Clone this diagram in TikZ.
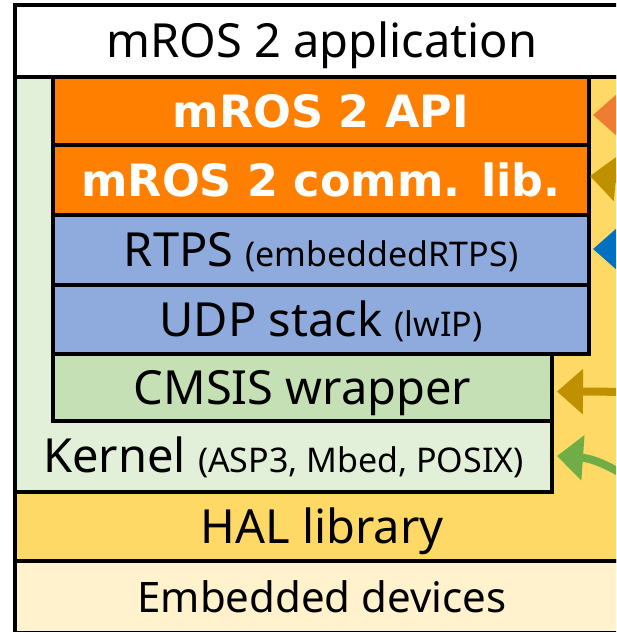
\documentclass[tikz,border=0pt]{standalone}
\usepackage{fontspec}
\setmainfont{Noto Sans}
\newfontfamily\apifont{DejaVu Sans}
\usetikzlibrary{arrows.meta}
\definecolor{apiorange}{HTML}{FF7F00}
\definecolor{rtpsblue}{HTML}{8FAADC}
\definecolor{cmsisgreen}{HTML}{C5E0B4}
\definecolor{kernelgreen}{HTML}{E2F0D9}
\definecolor{halyellow}{HTML}{FFD966}
\definecolor{devcream}{HTML}{FFF2CC}
\definecolor{arrorange}{HTML}{ED7D31}
\definecolor{arrbrown}{HTML}{BF9000}
\definecolor{arrblue}{HTML}{0070C0}
\definecolor{arrgreen}{HTML}{70AD47}
\newcommand{\subtxt}[1]{{\fontsize{34}{41}\selectfont #1}}
\tikzset{
  layer/.style={draw=black,line width=4.5pt,inner sep=0pt,outer sep=0pt,anchor=north west,
    text height=33.5pt,text depth=0pt,font=\fontsize{47}{54}\selectfont},
  boldlayer/.style={layer,text=white,text height=32.5pt,font=\apifont\bfseries\fontsize{44.5}{52}\selectfont},
  tag/.style={inner sep=0pt,text height=33.5pt,text depth=0pt,font=\fontsize{47}{54}\selectfont},
  feed/.style={line width=8pt,-{Triangle[length=26pt,width=44pt]}}
}
\begin{document}
\begin{tikzpicture}[x=1pt,y=-1pt]
    \useasboundingbox (0,0) rectangle (616,632);
    \clip (0,0) rectangle (616,632);

    \node[layer,fill=halyellow,minimum width=614pt,minimum height=484pt] (hal) at (15,77) {};
    \node[layer,fill=kernelgreen,minimum width=537pt,minimum height=415pt] (kernel) at (15,77) {};
    \node[layer,fill=white,minimum width=614pt,minimum height=72pt] (app) at (15,5) {mROS 2 application};

    \node[boldlayer,fill=apiorange,minimum width=536pt,minimum height=68pt] (api) at (53,77) {mROS 2 API};
    \node[boldlayer,fill=apiorange,minimum width=536pt,minimum height=70pt] (comm) at (53,145) {mROS 2 comm. lib.};
    \node[layer,fill=rtpsblue,minimum width=536pt,minimum height=70pt] (rtps) at (53,215) {RTPS \subtxt{(embeddedRTPS)}};
    \node[layer,fill=rtpsblue,minimum width=536pt,minimum height=69pt] (udp) at (53,285) {UDP stack \subtxt{(lwIP)}};
    \node[layer,fill=cmsisgreen,minimum width=499pt,minimum height=67pt] (cmsis) at (53,354) {CMSIS wrapper};
    \node[layer,fill=devcream,minimum width=614pt,minimum height=72pt,text height=30pt,font=\fontsize{42}{49}\selectfont] (dev) at (15,561) {Embedded devices};

    \node[tag] (kernellabel) at (283.5,456) {Kernel \subtxt{(ASP3, Mbed, POSIX)}};
    \node[tag] (hallabel) at (322,527) {HAL library};

    \coordinate (apiin) at (660,115);
    \coordinate (commin) at (690,255);
    \coordinate (rtpsin) at (660,249);
    \coordinate (cmsisin) at (660,392);
    \coordinate (kernelin) at (690,520);

    \draw[feed,arrorange] (apiin) -- ([shift={(4,4)}]api.east);
    \draw[feed,arrbrown] (commin) .. controls (640,200) and (622,179) .. ([shift={(1,-4)}]comm.east);
    \draw[feed,arrblue] (rtpsin) -- ([shift={(4,-1)}]rtps.east);
    \draw[feed,arrbrown] (cmsisin) -- ([shift={(5,4)}]cmsis.east);
    \draw[feed,arrgreen] (kernelin) .. controls (630,476) and (600,459) .. ([shift={(5,-36)}]kernel.south east);
\end{tikzpicture}
\end{document}
